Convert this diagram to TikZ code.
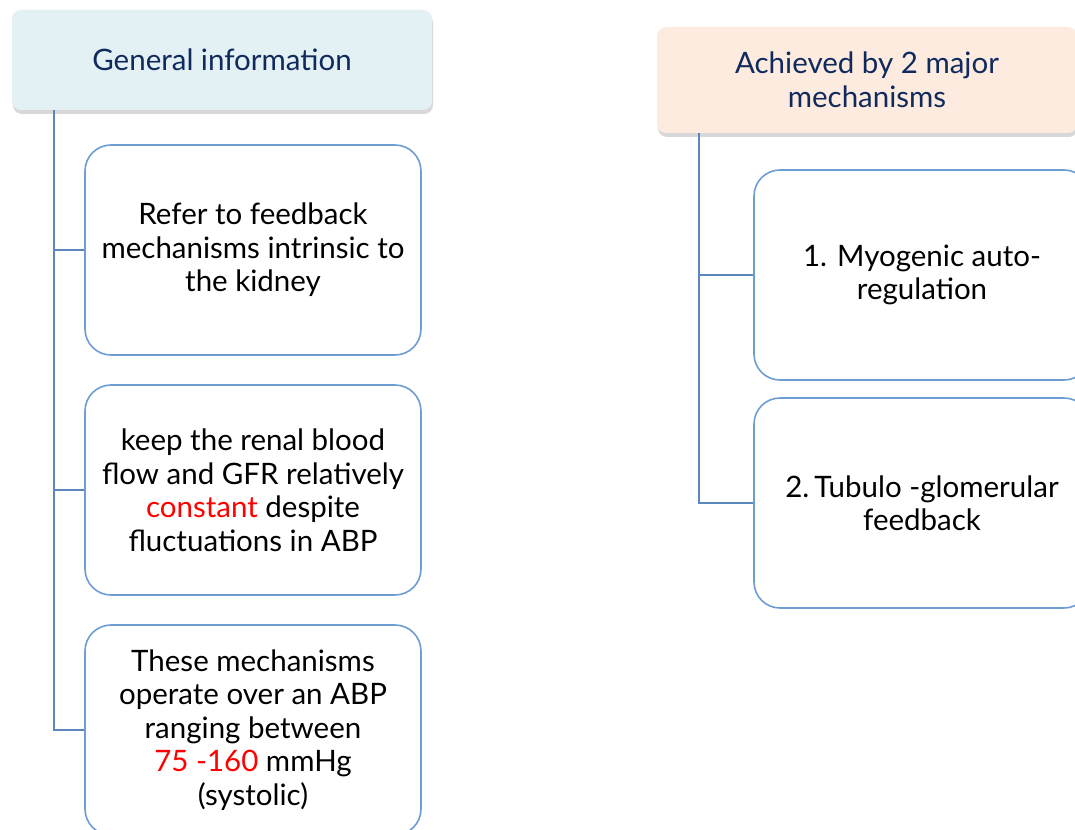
\documentclass[tikz,border=0pt]{standalone}
\usepackage{fontspec}
\setmainfont{Lato}
\usetikzlibrary{shadows}
\definecolor{navy}{HTML}{102A5E}
\definecolor{lineblue}{HTML}{5A88BE}
\definecolor{boxblue}{HTML}{6E9DD3}
\definecolor{headblue}{HTML}{E3F1F5}
\definecolor{headpeach}{HTML}{FDEBDF}
\tikzset{
	header/.style={rounded corners=9pt, text=navy, align=center, inner sep=0pt,
		minimum width=420pt, drop shadow={shadow xshift=1pt, shadow yshift=-4pt, opacity=0.25, fill=black!60}},
	leaf/.style={draw=boxblue, line width=1.6pt, rounded corners=26pt, fill=white, align=center,
		minimum width=336pt, minimum height=210pt, inner sep=0pt},
	link/.style={draw=lineblue, line width=1.6pt}
}
\begin{document}
\begin{tikzpicture}[x=1pt, y=-1pt, font=\fontsize{29.5}{33.5}\selectfont]
			\clip (0,0) rectangle (1075,829);
			\fill[white] (0,0) rectangle (1075,829);
			\node[header, fill=headblue, minimum height=100pt] (hl) at (222,60) {General information};
			\node[header, fill=headpeach, minimum height=106pt] (hr) at (867,80) {Achieved by 2 major\\mechanisms};
			\coordinate (tl) at ([xshift=42pt]hl.south west); \coordinate (tr) at ([xshift=42pt]hr.south west);
			\node[leaf] (l1) at (253,250) {Refer to feedback\\mechanisms intrinsic to\\the kidney};
			\node[leaf] (l2) at (253,490) {keep the renal blood\\flow and GFR relatively\\\textcolor{red}{constant} despite\\fluctuations in ABP};
			\node[leaf] (l3) at (253,730) {These mechanisms\\operate over an ABP\\ranging between\\\textcolor{red}{75 -160} mmHg\\(systolic)};
			\node[leaf] (r1) at (922,275) {1. Myogenic auto-\\regulation};
			\node[leaf] (r2) at (922,503) {2.\,Tubulo -glomerular\\feedback};
			\draw[link] (tl) |- (l3.west) (tl |- l1.west) -- (l1.west) (tl |- l2.west) -- (l2.west);
			\draw[link] (tr) |- (r2.west) (tr |- r1.west) -- (r1.west);
		\end{tikzpicture}
\end{document}
